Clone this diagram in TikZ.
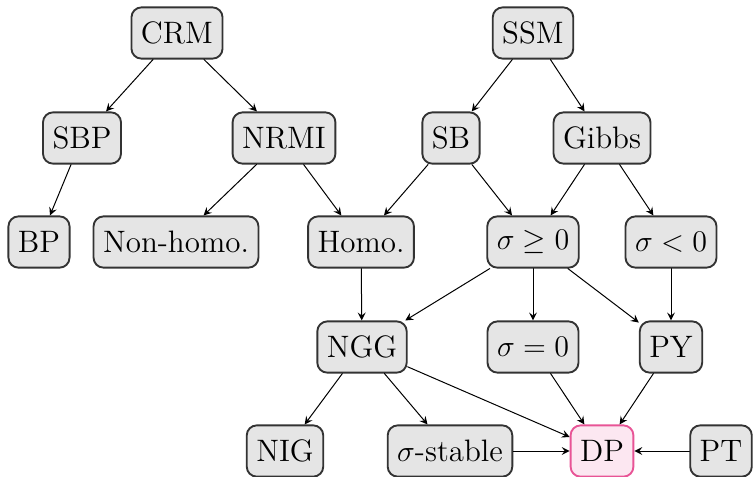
\documentclass[tikz,border=0pt]{standalone}
\definecolor{dpline}{RGB}{232,84,150}
\definecolor{dpfill}{RGB}{252,231,241}
\begin{document}
\begin{tikzpicture}[>=stealth,line join=round,line cap=round,font=\fontsize{12.4}{15}\selectfont,x=0.4pt,y=-0.4pt,
	box/.style={draw=black!80,line width=0.75pt,fill=gray!20,rounded corners=4pt,minimum height=20.5pt,inner xsep=3.8pt},
	dpbox/.style={box,draw=dpline,fill=dpfill}]
			\useasboundingbox (0,0) rectangle (753,476);
			\def\ra{33} \def\rb{138} \def\rc{242} \def\rd{347} \def\re{451}
			% top
			\node[box] (crm) at (177,\ra) {CRM};
			\node[box] (ssm) at (533,\ra) {SSM};
			% second row
			\node[box] (sbp) at (82,\rb) {SBP};
			\node[box] (nrmi) at (284,\rb) {NRMI};
			\node[box] (sb) at (451,\rb) {SB};
			\node[box] (gibbs) at (602,\rb) {Gibbs};
			% third row
			\node[box] (bp) at (39,\rc) {BP};
			\node[box] (nonhomo) at (176,\rc) {Non-homo.};
			\node[box] (homo) at (361,\rc) {Homo.};
			\node[box] (sgeq) at (533,\rc) {$\sigma\geq0$};
			\node[box] (sneg) at (671,\rc) {$\sigma<0$};
			% fourth row
			\node[box] (ngg) at (362,\rd) {NGG};
			\node[box] (szero) at (533,\rd) {$\sigma=0$};
			\node[box] (py) at (671,\rd) {PY};
			% bottom
			\node[box] (nig) at (285,\re) {NIG};
			\node[box] (sstable) at (450,\re) {$\sigma$-stable};
			\node[dpbox] (dp) at (602,\re) {DP};
			\node[box] (pt) at (721,\re) {PT};
			\draw[->] (crm)--(sbp);
			\draw[->] (crm)--(nrmi);
			\draw[->] (ssm)--(sb);
			\draw[->] (ssm)--(gibbs);
			\draw[->] (sbp)--(bp);
			\draw[->] (nrmi)--(nonhomo);
			\draw[->] (nrmi)--(homo);
			\draw[->] (sb)--(homo);
			\draw[->] (sb)--(sgeq);
			\draw[->] (gibbs)--(sgeq);
			\draw[->] (gibbs)--(sneg);
			\draw[->] (homo)--(ngg);
			\draw[->] (sgeq)--(ngg);
			\draw[->] (sgeq)--(szero);
			\draw[->] (sgeq)--(py);
			\draw[->] (sneg)--(py);
			\draw[->] (ngg)--(nig);
			\draw[->] (ngg)--(sstable);
			\draw[->] (ngg)--(dp);
			\draw[->] (szero)--(dp);
			\draw[->] (py)--(dp);
			\draw[->] (sstable)--(dp);
			\draw[->] (pt)--(dp);
	\end{tikzpicture}
\end{document}
